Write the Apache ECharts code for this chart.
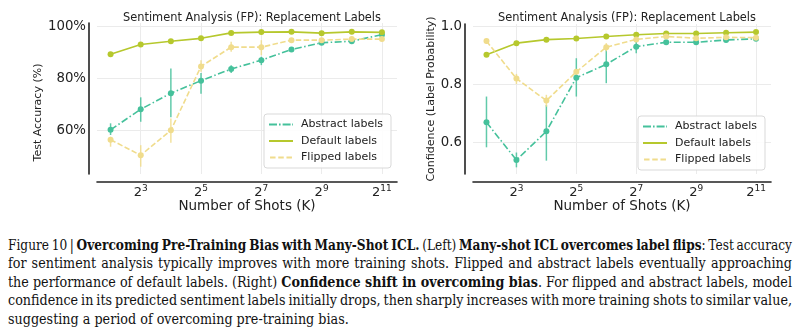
<!DOCTYPE html>
<html>
<head>
<meta charset="utf-8">
<script src="https://cdn.jsdelivr.net/npm/echarts@6/dist/echarts.min.js"></script>
<style>
  html, body { margin: 0; padding: 0; background: #fff; }
  #wrap { position: relative; width: 805px; height: 335px; overflow: hidden; }
  #chart { position: absolute; left: 0; top: 0; width: 805px; height: 232px; }
  #caption { position: absolute; left: 8px; top: 236px; width: 784px;
    font-family: "DejaVu Serif", "Liberation Serif", serif;
    font-size: 15px; line-height: 18.4px; color: #111; }
  #caption .ln { white-space: nowrap; height: 18.4px; }
  #caption .ln span { display: inline-block; transform-origin: 0 50%; }
</style>
</head>
<body>
<div id="wrap">
  <div id="chart"></div>
  <div id="caption">
    <div class="ln j"><span>Figure 10 | <b>Overcoming Pre-Training Bias with Many-Shot ICL.</b> (Left) <b>Many-shot ICL overcomes label flips</b>: Test accuracy</span></div>
    <div class="ln j"><span>for sentiment analysis typically improves with more training shots. Flipped and abstract labels eventually approaching</span></div>
    <div class="ln j"><span>the performance of default labels. (Right) <b>Confidence shift in overcoming bias</b>. For flipped and abstract labels, model</span></div>
    <div class="ln j"><span>confidence in its predicted sentiment labels initially drops, then sharply increases with more training shots to similar value,</span></div>
    <div class="ln l"><span>suggesting a period of overcoming pre-training bias.</span></div>
  </div>
</div>
<script>
// ---- data ----
const shots = [4, 8, 16, 32, 64, 128, 256, 512, 1024, 2048];
const xTickExponents = [3, 5, 7, 9, 11];
const accTicks = [60, 80, 100];
const confTicks = [0.6, 0.8, 1.0];
const seriesNames = ['Abstract labels', 'Default labels', 'Flipped labels'];
const chartTitle = 'Sentiment Analysis (FP): Replacement Labels';

// Left: Test accuracy (%)
const accAbstract   = [60.1, 68.0, 74.2, 79.0, 83.5, 86.9, 91.0, 93.6, 94.2, 96.7];
const accAbstractLo = [58.1, 63.2, 64.9, 74.0, 82.0, 85.0, 90.3, 93.0, 93.6, 96.1];
const accAbstractHi = [62.6, 72.6, 83.7, 82.0, 84.9, 88.2, 91.7, 94.2, 94.8, 97.3];
const accDefault    = [89.2, 92.9, 94.2, 95.3, 97.4, 97.7, 97.8, 97.3, 97.8, 97.6];
const accDefaultLo  = [88.8, 92.5, 93.8, 94.9, 97.1, 97.4, 97.5, 97.0, 97.5, 97.3];
const accDefaultHi  = [89.6, 93.3, 94.6, 95.7, 97.7, 98.0, 98.1, 97.6, 98.1, 97.9];
const accFlipped    = [56.3, 50.3, 59.9, 84.5, 91.9, 91.9, 94.6, 94.6, 95.0, 95.0];
const accFlippedLo  = [53.6, 45.9, 55.1, 82.4, 90.1, 88.8, 94.0, 94.0, 94.4, 94.4];
const accFlippedHi  = [57.4, 54.2, 64.5, 86.9, 94.0, 94.6, 95.2, 95.2, 95.6, 95.6];

// Right: Confidence (label probability)
const confAbstract   = [0.670, 0.540, 0.639, 0.824, 0.870, 0.931, 0.946, 0.946, 0.954, 0.958];
const confAbstractLo = [0.584, 0.515, 0.538, 0.759, 0.805, 0.908, 0.940, 0.940, 0.950, 0.954];
const confAbstractHi = [0.759, 0.566, 0.730, 0.891, 0.937, 0.948, 0.952, 0.952, 0.958, 0.962];
const confDefault    = [0.903, 0.943, 0.955, 0.959, 0.966, 0.972, 0.976, 0.976, 0.979, 0.981];
const confDefaultLo  = [0.900, 0.940, 0.953, 0.957, 0.964, 0.970, 0.974, 0.974, 0.977, 0.979];
const confDefaultHi  = [0.906, 0.946, 0.957, 0.961, 0.968, 0.974, 0.978, 0.978, 0.981, 0.983];
const confFlipped    = [0.950, 0.821, 0.745, 0.844, 0.929, 0.956, 0.966, 0.960, 0.963, 0.962];
const confFlippedLo  = [0.940, 0.802, 0.724, 0.835, 0.915, 0.950, 0.962, 0.956, 0.960, 0.959];
const confFlippedHi  = [0.958, 0.837, 0.765, 0.853, 0.943, 0.962, 0.970, 0.964, 0.966, 0.965];

// ---- caption fitting (justify each line to the caption width) ----
function fitCaption() {
  const W = 784, base = 0.85;
  document.querySelectorAll('#caption .ln').forEach(function (ln) {
    const sp = ln.querySelector('span');
    sp.style.transform = 'none';
    sp.style.wordSpacing = '0px';
    const w0 = sp.getBoundingClientRect().width;
    if (ln.classList.contains('l')) { sp.style.transform = 'scaleX(' + base + ')'; return; }
    const n = (sp.textContent.match(/ /g) || []).length || 1;
    let ws = (W / base - w0) / n;
    ws = Math.max(-1.5, Math.min(2.5, ws));
    sp.style.wordSpacing = ws + 'px';
    const w1 = sp.getBoundingClientRect().width;
    sp.style.transform = 'scaleX(' + (W / w1) + ')';
  });
}
fitCaption();
if (document.fonts && document.fonts.ready) document.fonts.ready.then(fitCaption);

// ---- styling ----
const COLORS = { 'Abstract labels': '#45c19b', 'Default labels': '#b6c82d', 'Flipped labels': '#f0dc8c' };
const DASH = { 'Abstract labels': [7, 2.5, 1.5, 2.5], 'Default labels': 'solid', 'Flipped labels': [5.5, 2.4] };
const ICONS = {
  'Abstract labels': 'path://M0,0h8v2h-8zM10,0h1.6v2h-1.6zM13.6,0h8v2h-8zM23.2,0h0.8v2h-0.8z',
  'Default labels': 'path://M0,0h24v2h-24z',
  'Flipped labels': 'path://M0,0h5.5v2h-5.5zM8.2,0h5.5v2h-5.5zM16.4,0h5.5v2h-5.5z'
};
const FONT = 'DejaVu Sans';
const INK = '#222';

const chart = echarts.init(document.getElementById('chart'), null, { renderer: 'canvas' });

const lx = v => Math.log2(v);
function pts(vals) { return shots.map((s, i) => [lx(s), vals[i]]); }
function bars(lo, hi) { return shots.map((s, i) => [lx(s), lo[i], hi[i]]); }

function errSeries(gi, name, lo, hi) {
  const c = COLORS[name];
  return {
    type: 'custom', xAxisIndex: gi, yAxisIndex: gi, silent: true, z: 3,
    data: bars(lo, hi), encode: { x: 0, y: [1, 2] },
    renderItem: function (params, api) {
      const a = api.coord([api.value(0), api.value(1)]);
      const b = api.coord([api.value(0), api.value(2)]);
      return { type: 'line', shape: { x1: a[0], y1: a[1], x2: b[0], y2: b[1] },
        style: { stroke: c, lineWidth: 1.5, opacity: 0.85 } };
    }
  };
}
function lineSeries(gi, name, vals) {
  return {
    type: 'line', name: name, xAxisIndex: gi, yAxisIndex: gi, z: 4,
    data: pts(vals), symbol: 'circle', symbolSize: 6, showSymbol: true,
    color: COLORS[name],
    itemStyle: { color: COLORS[name], borderWidth: 0 },
    lineStyle: { color: COLORS[name], width: 1.6, type: DASH[name] },
    emphasis: { disabled: true }, animation: false
  };
}
function gridSeries(gi, yTicks) {
  return {
    type: 'line', xAxisIndex: gi, yAxisIndex: gi, data: [], silent: true, z: 0, zlevel: 0,
    markLine: {
      silent: true, symbol: 'none', animation: false, label: { show: false }, z: 0,
      lineStyle: { color: '#ebebeb', width: 1, type: 'solid' },
      data: xTickExponents.map(e => ({ xAxis: e })).concat(yTicks.map(v => ({ yAxis: v })))
    }
  };
}

const grids = [
  { left: 97, top: 23, width: 300, height: 151 },
  { left: 473, top: 24, width: 298, height: 150 }
];

function xAxisCfg(gi) {
  return {
    type: 'value', gridIndex: gi, min: 1.55, max: 11.5, offset: 8,
    name: 'Number of Shots (K)', nameLocation: 'middle', nameGap: 17, nameMoveOverlap: false,
    nameTextStyle: { fontFamily: FONT, fontSize: 13.5, color: INK },
    axisLine: { show: true, lineStyle: { color: INK, width: 1.6 } },
    axisTick: { show: false }, splitLine: { show: false },
    axisLabel: {
      customValues: xTickExponents, margin: 2, color: INK, fontFamily: FONT,
      formatter: v => '{b|2}{s|' + v + '}',
      rich: {
        b: { fontSize: 13, fontFamily: FONT, color: INK },
        s: { fontSize: 9, fontFamily: FONT, color: INK, padding: [0, 0, 9, 0] }
      }
    }
  };
}
function yAxisCfg(gi, name, min, max, ticks, fmt, gap, namePad) {
  return {
    type: 'value', gridIndex: gi, min: min, max: max, offset: 8,
    name: name, nameLocation: 'middle', nameGap: gap, nameMoveOverlap: false,
    nameTextStyle: { fontFamily: FONT, fontSize: 11, color: INK, padding: namePad },
    axisLine: { show: true, lineStyle: { color: INK, width: 1.6 } },
    axisTick: { show: false }, splitLine: { show: false },
    axisLabel: { customValues: ticks, formatter: fmt, margin: 3, fontFamily: FONT, fontSize: 13.3, color: INK }
  };
}
function legendCfg(left, top) {
  return {
    orient: 'vertical', left: left, top: top, z: 30, zlevel: 0,
    data: seriesNames.map(n => ({ name: n, icon: ICONS[n], itemStyle: { color: COLORS[n], borderWidth: 0 } })),
    itemWidth: 24, itemHeight: 2, itemGap: 3.5,
    padding: [4, 8, 4, 5], selectedMode: false,
    backgroundColor: 'rgba(255,255,255,0.9)', borderColor: '#d9d9d9', borderWidth: 1, borderRadius: 3,
    textStyle: { fontFamily: FONT, fontSize: 11, color: INK, lineHeight: 13, padding: [0, 0, 0, 3] }
  };
}

const option = {
  animation: false,
  backgroundColor: '#fff',
  title: [
    { text: chartTitle, left: 247, top: 8, textAlign: 'center',
      textStyle: { fontFamily: FONT, fontSize: 11.4, fontWeight: 'normal', color: INK } },
    { text: chartTitle, left: 622, top: 8, textAlign: 'center',
      textStyle: { fontFamily: FONT, fontSize: 11.4, fontWeight: 'normal', color: INK } }
  ],
  legend: [legendCfg(264, 114), legendCfg(638, 116)],
  grid: grids,
  xAxis: [xAxisCfg(0), xAxisCfg(1)],
  yAxis: [
    yAxisCfg(0, 'Test Accuracy (%)', 43.1, 101.2, accTicks, v => v + '%', 45, [0, 28, 0, 0]),
    yAxisCfg(1, 'Confidence (Label Probability)', 0.492, 1.009, confTicks, v => v.toFixed(1), 28, 0)
  ],
  series: [
    gridSeries(0, accTicks),
    errSeries(0, 'Abstract labels', accAbstractLo, accAbstractHi),
    errSeries(0, 'Default labels', accDefaultLo, accDefaultHi),
    errSeries(0, 'Flipped labels', accFlippedLo, accFlippedHi),
    lineSeries(0, 'Abstract labels', accAbstract),
    lineSeries(0, 'Default labels', accDefault),
    lineSeries(0, 'Flipped labels', accFlipped),
    gridSeries(1, confTicks),
    errSeries(1, 'Abstract labels', confAbstractLo, confAbstractHi),
    errSeries(1, 'Default labels', confDefaultLo, confDefaultHi),
    errSeries(1, 'Flipped labels', confFlippedLo, confFlippedHi),
    lineSeries(1, 'Abstract labels', confAbstract),
    lineSeries(1, 'Default labels', confDefault),
    lineSeries(1, 'Flipped labels', confFlipped)
  ]
};
chart.setOption(option);
</script>
</body>
</html>
